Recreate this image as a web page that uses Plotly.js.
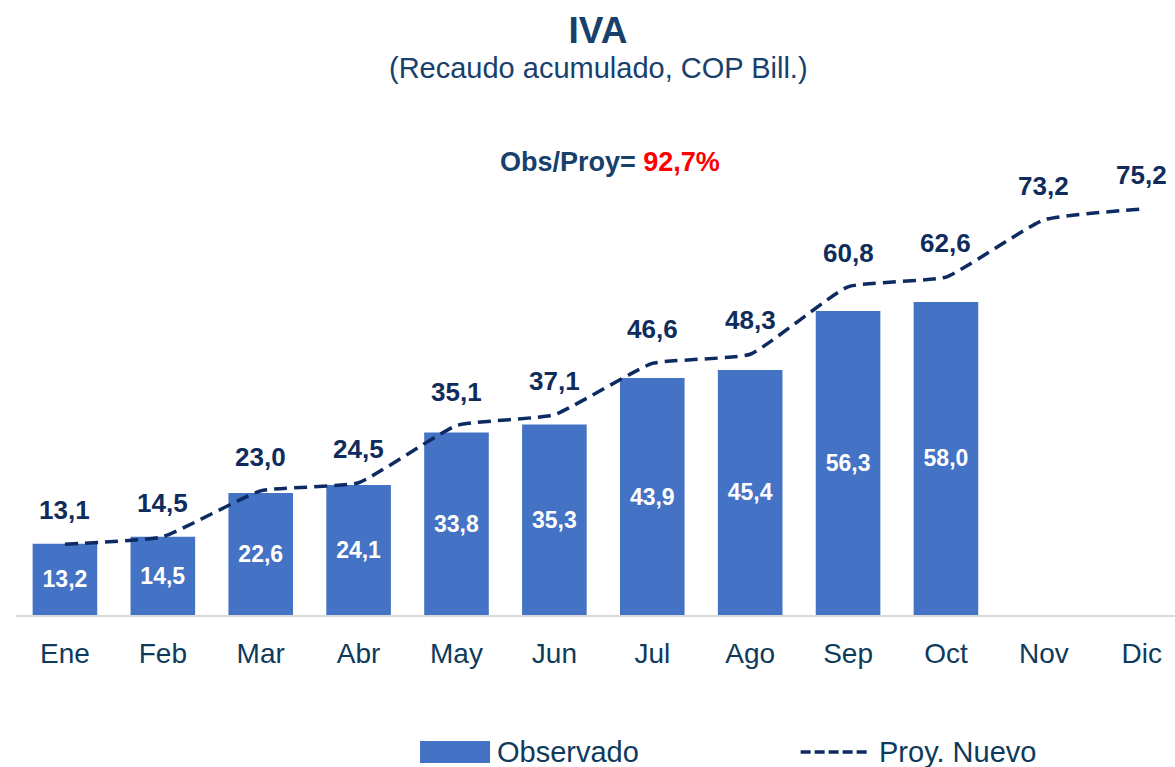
<!DOCTYPE html>
<html><head><meta charset="utf-8">
<script src="https://cdn.plot.ly/plotly-3.0.1.min.js"></script>
<style>body{margin:0;background:#fff}#chart{width:1175px;height:767px}</style>
</head><body><div id="chart"></div>
<script>
const months = ['Ene','Feb','Mar','Abr','May','Jun','Jul','Ago','Sep','Oct','Nov','Dic'];
const observado = [13.2,14.5,22.6,24.1,33.8,35.3,43.9,45.4,56.3,58.0,null,null];
const proyNuevo = [13.1,14.5,23.0,24.5,35.1,37.1,46.6,48.3,60.8,62.6,73.2,75.2];
const ratioText = '92,7%';
const seriesNames = ['Observado','Proy. Nuevo'];

const FONT = 'Liberation Sans, Arial, sans-serif';
const fmt = v => v.toFixed(1).replace('.', ',');

const barTrace = {
  type:'bar', x:months, y:observado, name:seriesNames[0],
  marker:{color:'#4472C4'}, width:0.66,
  text:observado.map(v=>v==null?'':'<b>'+fmt(v)+'</b>'), textposition:'inside', insidetextanchor:'middle',
  textfont:{family:FONT, size:23, color:'#ffffff'}, constraintext:'none',
  hoverinfo:'none', showlegend:false
};
const lineTrace = {
  type:'scatter', mode:'lines', x:months, y:proyNuevo, name:seriesNames[1],
  line:{color:'#0d2a62', width:3.5, dash:'13px,7px', shape:'spline', smoothing:0.4},
  hoverinfo:'none', showlegend:false
};

const ann = proyNuevo.map((v,i)=>({
  x:months[i], y:v, xref:'x', yref:'y', text:'<b>'+fmt(v)+'</b>', showarrow:false,
  yshift:34, font:{family:FONT, size:26, color:'#0f2c5c'}
}));
ann.push({
  xref:'paper', yref:'paper', x:0.5125, y:0.8796, yanchor:'middle', showarrow:false,
  text:"<b>Obs/Proy= <span style='color:#ff0000'>"+ratioText+"</span></b>",
  font:{family:FONT, size:27, color:'#17406d'}
});
ann.push({
  xref:'paper', yref:'paper', x:0.5025, y:1.062, yanchor:'middle', showarrow:false,
  text:'(Recaudo acumulado, COP Bill.)',
  font:{family:FONT, size:29, color:'#17406d'}
});
ann.push({xref:'paper', yref:'paper', x:0.4133, y:-0.266, xanchor:'left', yanchor:'middle', showarrow:false,
  text:seriesNames[0], font:{family:FONT, size:29, color:'#0e3a5c'}});
ann.push({xref:'paper', yref:'paper', x:0.743, y:-0.266, xanchor:'left', yanchor:'middle', showarrow:false,
  text:seriesNames[1], font:{family:FONT, size:29, color:'#0e3a5c'}});

const shapes = [
  {type:'rect', xref:'paper', yref:'paper', x0:0.3486, x1:0.409, y0:-0.2874, y1:-0.2447,
   fillcolor:'#4472C4', line:{width:0}},
  {type:'line', xref:'paper', yref:'paper', x0:0.677, x1:0.737, y0:-0.266, y1:-0.266,
   line:{color:'#0d2a62', width:3.5, dash:'10px,4px'}}
];

const layout = {
  width:1175, height:767,
  margin:{l:16, r:0, t:100, b:152},
  paper_bgcolor:'#fff', plot_bgcolor:'#fff',
  title:{text:'<b>IVA</b>', x:0.509, xanchor:'center', y:0.961, yanchor:'middle',
    font:{family:FONT, size:37, color:'#17406d'}},
  xaxis:{type:'category', range:[-0.5, 11.34], showgrid:false, showline:true, linecolor:'#d9d9d9', linewidth:2,
    ticks:'', tickfont:{family:FONT, size:28, color:'#0e3a5c'}, ticklabelstandoff:12, automargin:false},
  yaxis:{range:[0,95.4], visible:false, showgrid:false, zeroline:false, automargin:false},
  showlegend:false,
  annotations:ann, shapes:shapes
};
Plotly.newPlot('chart',[barTrace,lineTrace],layout,{displayModeBar:false, staticPlot:true});
</script></body></html>
